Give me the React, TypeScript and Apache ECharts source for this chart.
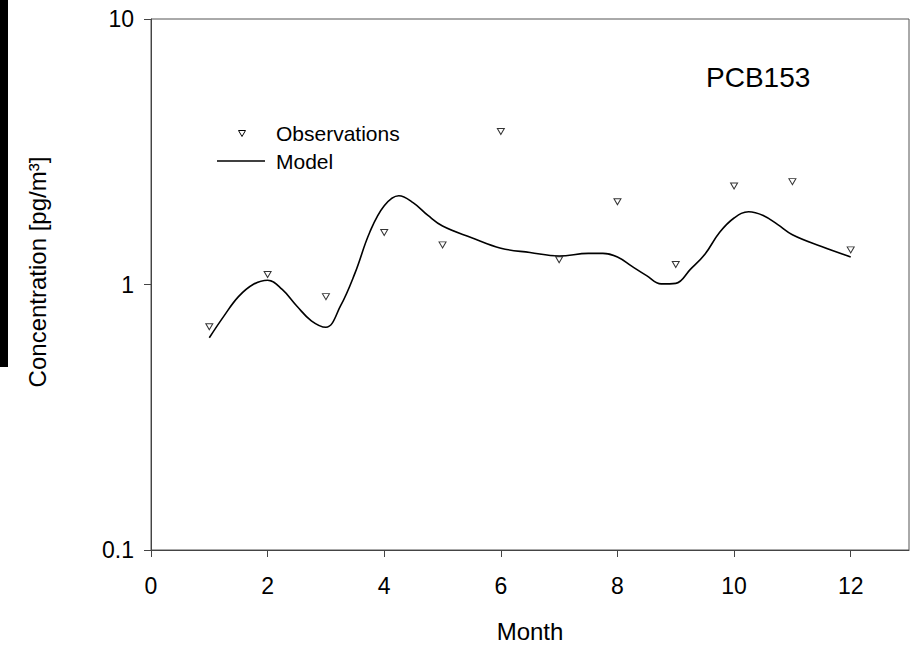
import React, { useEffect, useRef } from "react";
import * as echarts from "echarts";

const months = [1, 2, 3, 4, 5, 6, 7, 8, 9, 10, 11, 12];
const observations = [0.693, 1.09, 0.9, 1.57, 1.41, 3.77, 1.24, 2.05, 1.19, 2.35, 2.44, 1.35];

const modelX = [
  1, 1.25, 1.5, 1.75, 2, 2.25, 2.5, 2.75, 3, 3.25, 3.5, 3.75, 4, 4.25, 4.5, 4.75, 5, 5.5, 6, 6.5, 7, 7.5,
  7.75, 8, 8.25, 8.5, 8.75, 9, 9.25, 9.5, 9.75, 10, 10.25, 10.5, 10.75, 11, 11.5, 12,
];
const modelY = [
  0.63, 0.76, 0.9, 1.0, 1.038, 0.958, 0.83, 0.73, 0.69, 0.83, 1.106, 1.57, 1.98, 2.16, 2.03, 1.82, 1.66, 1.5,
  1.37, 1.32, 1.28, 1.31, 1.31, 1.27, 1.17, 1.08, 1.005, 1.01, 1.14, 1.3, 1.57, 1.78, 1.88, 1.82, 1.68, 1.54, 1.39,
  1.27,
];

const xTicks = [0, 2, 4, 6, 8, 10, 12];

const FONT = "'Liberation Sans', Arial, sans-serif";

export default function App() {
  const ref = useRef<HTMLDivElement>(null);
  useEffect(() => {
    document.body.style.margin = "0";
    const chart = echarts.init(ref.current!, null, { renderer: "svg" });
    chart.setOption({
      animation: false,
      backgroundColor: "#fff",
      grid: {
        left: 151,
        right: 8,
        top: 19,
        bottom: 95,
        show: true,
        borderColor: "#555",
        borderWidth: 1,
      },
      xAxis: {
        type: "value",
        min: 0,
        max: 13,
        interval: 2,
        axisLine: { show: true, lineStyle: { color: "#444", width: 1 } },
        axisTick: { show: true, length: 7, inside: false, lineStyle: { color: "#444" }, customValues: xTicks },
        axisLabel: { customValues: xTicks, fontSize: 23, color: "#000", fontFamily: FONT, margin: 24 },
        splitLine: { show: false },
      },
      yAxis: {
        type: "log",
        logBase: 10,
        min: 0.1,
        max: 10,
        axisLine: { show: true, lineStyle: { color: "#444", width: 1 } },
        axisTick: { show: true, length: 7, inside: false, lineStyle: { color: "#444" } },
        axisLabel: {
          fontSize: 23,
          color: "#000",
          fontFamily: FONT,
          margin: 17,
          formatter: (v: number) => String(+v.toPrecision(3)),
        },
        splitLine: { show: false },
        minorTick: { show: false },
      },
      series: [
        {
          name: "Model",
          type: "line",
          data: modelX.map((x, i) => [x, modelY[i]]),
          smooth: 0.4,
          symbol: "none",
          lineStyle: { color: "#000", width: 1.6 },
          z: 2,
        },
        {
          name: "Observations",
          type: "scatter",
          data: months.map((m, i) => [m, observations[i]]),
          symbol: "triangle",
          symbolRotate: 180,
          symbolSize: [7, 6],
          itemStyle: { color: "#fff", borderColor: "#000", borderWidth: 1 },
          z: 3,
        },
      ],
      graphic: [
        { type: "rect", shape: { x: 0, y: 0, width: 8, height: 367 }, style: { fill: "#000" } },
        {
          type: "text",
          x: 706,
          y: 77,
          style: { text: "PCB153", font: `28px ${FONT}`, fill: "#000", align: "left", verticalAlign: "middle" },
        },
        {
          type: "polygon",
          shape: { points: [[238.5, 130.5], [245.5, 130.5], [242, 136.5]] },
          style: { fill: "#fff", stroke: "#000", lineWidth: 1 },
        },
        {
          type: "text",
          x: 276,
          y: 133,
          style: { text: "Observations", font: `21px ${FONT}`, fill: "#000", align: "left", verticalAlign: "middle" },
        },
        {
          type: "line",
          shape: { x1: 217, y1: 161, x2: 265, y2: 161 },
          style: { stroke: "#000", lineWidth: 1.6 },
        },
        {
          type: "text",
          x: 276,
          y: 161,
          style: { text: "Model", font: `21px ${FONT}`, fill: "#000", align: "left", verticalAlign: "middle" },
        },
        {
          type: "text",
          x: 530,
          y: 631,
          style: { text: "Month", font: `24px ${FONT}`, fill: "#000", align: "center", verticalAlign: "middle" },
        },
        {
          type: "text",
          x: 37,
          y: 272,
          rotation: Math.PI / 2,
          style: {
            text: "Concentration [pg/m³]",
            font: `24px ${FONT}`,
            fill: "#000",
            align: "center",
            verticalAlign: "middle",
          },
        },
      ],
    });
    return () => chart.dispose();
  }, []);
  return <div ref={ref} style={{ position: "fixed", left: 0, top: 0, width: 917, height: 645 }} />;
}
